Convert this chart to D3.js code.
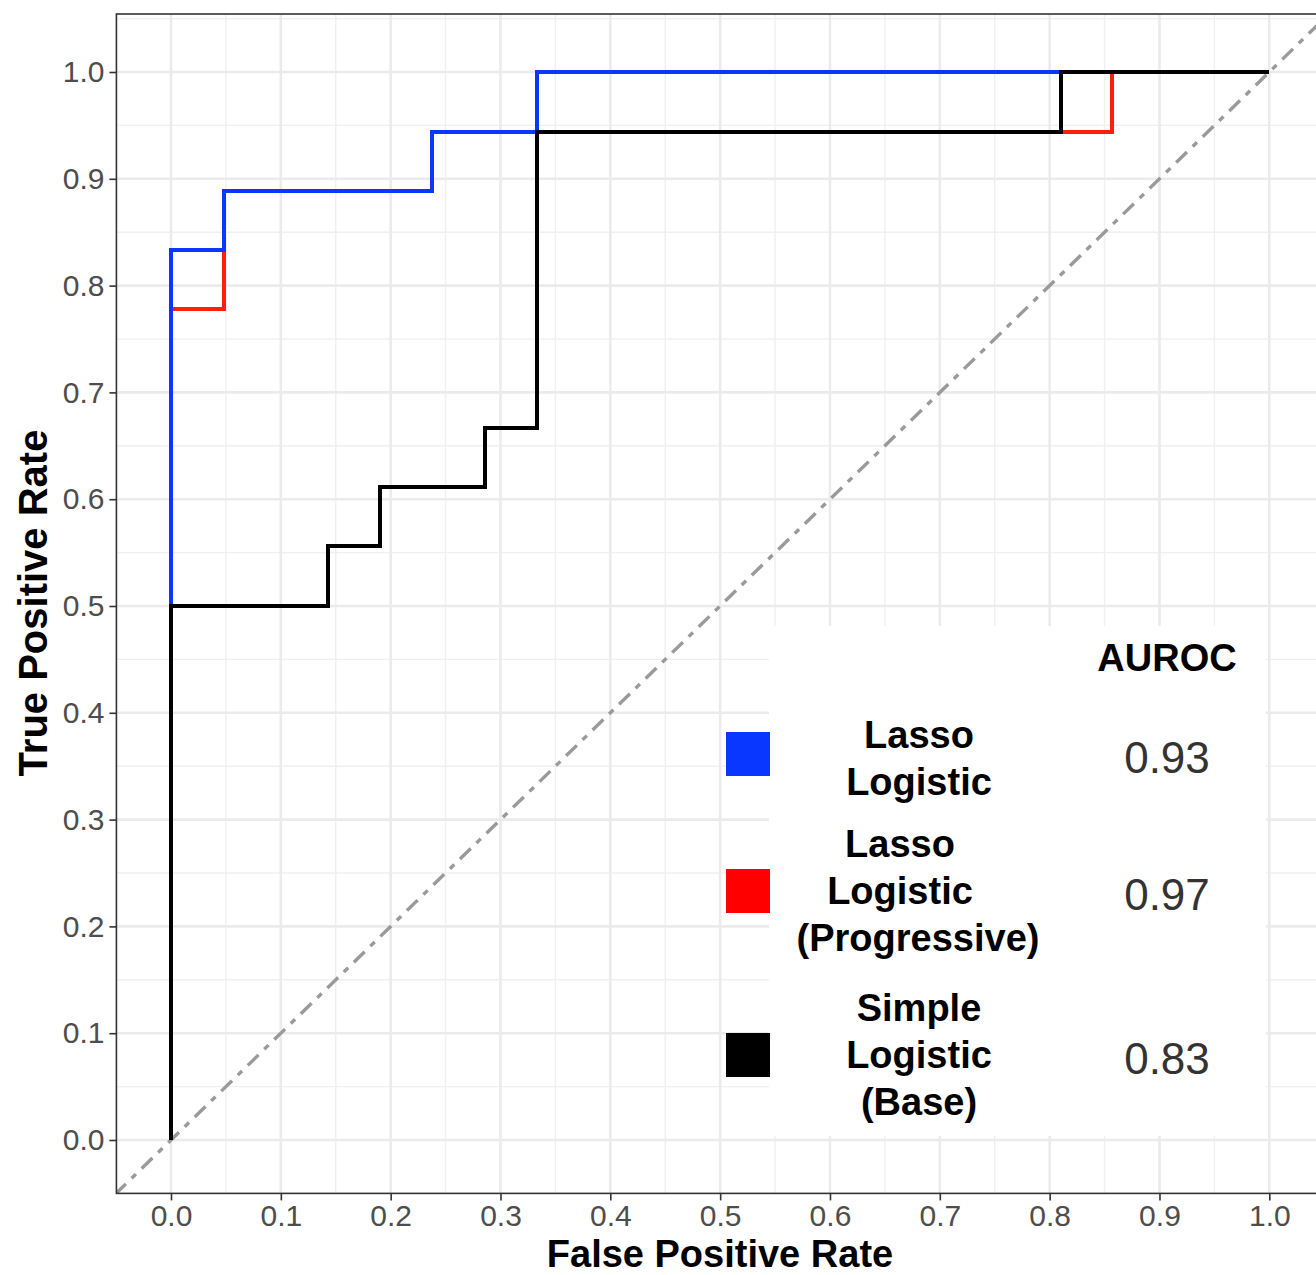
<!DOCTYPE html>
<html><head><meta charset="utf-8">
<script src="https://cdn.jsdelivr.net/npm/d3@7"></script>
<style>html,body{margin:0;padding:0;background:#fff;overflow:hidden}</style>
</head><body>
<svg id="chart" width="1316" height="1275"></svg>
<script>
// ---- data ----
const fprRed   = [0, 0, 0.048, 0.048, 0.238, 0.238, 0.857, 0.857, 1];
const tprRed   = [0, 0.778, 0.778, 0.889, 0.889, 0.944, 0.944, 1, 1];
const fprBlue  = [0, 0, 0.048, 0.048, 0.238, 0.238, 0.333, 0.333, 1];
const tprBlue  = [0, 0.833, 0.833, 0.889, 0.889, 0.944, 0.944, 1, 1];
const fprBlack = [0, 0, 0.143, 0.143, 0.190, 0.190, 0.286, 0.286, 0.333, 0.333, 0.810, 0.810, 1];
const tprBlack = [0, 0.5, 0.5, 0.556, 0.556, 0.611, 0.611, 0.667, 0.667, 0.944, 0.944, 1, 1];
const seriesNames = [["Lasso","Logistic"], ["Lasso","Logistic","(Progressive)"], ["Simple","Logistic","(Base)"]];
const seriesColors = ["#0a37ff", "#ff1f0a", "#000000"];
const swatchColors = ["#0a37ff", "#ff0000", "#000000"];
const aurocValues = ["0.93", "0.97", "0.83"];
const tickValues = [0, 0.1, 0.2, 0.3, 0.4, 0.5, 0.6, 0.7, 0.8, 0.9, 1.0];
const minorValues = [0.05, 0.15, 0.25, 0.35, 0.45, 0.55, 0.65, 0.75, 0.85, 0.95, 1.05];
const xTitle = "False Positive Rate";
const yTitle = "True Positive Rate";
const legendTitle = "AUROC";

// ---- layout ----
const svg = d3.select("#chart");
const x = d3.scaleLinear().domain([0, 1]).range([171, 1269.3]);
const y = d3.scaleLinear().domain([0, 1]).range([1140, 72]);
const panel = {left: x(-0.0497), right: x(1.05), top: 14, bottom: y(-0.05)};
const FONT = "'Liberation Sans', Arial, Helvetica, sans-serif";

svg.append("defs").append("clipPath").attr("id","clip")
  .append("rect").attr("x",panel.left).attr("y",panel.top)
  .attr("width",panel.right-panel.left).attr("height",panel.bottom-panel.top);

const g = svg.append("g");
g.append("rect").attr("x",panel.left).attr("y",panel.top)
  .attr("width",panel.right-panel.left).attr("height",panel.bottom-panel.top).attr("fill","#fff");

const grid = g.append("g").attr("clip-path","url(#clip)");
grid.selectAll(".mx").data(minorValues).join("line")
  .attr("x1",d=>x(d)).attr("x2",d=>x(d)).attr("y1",panel.top).attr("y2",panel.bottom)
  .attr("stroke","#f0f0f0").attr("stroke-width",1.4);
grid.selectAll(".my").data(minorValues).join("line")
  .attr("y1",d=>y(d)).attr("y2",d=>y(d)).attr("x1",panel.left).attr("x2",panel.right)
  .attr("stroke","#f0f0f0").attr("stroke-width",1.4);
grid.selectAll(".gx").data(tickValues).join("line")
  .attr("x1",d=>x(d)).attr("x2",d=>x(d)).attr("y1",panel.top).attr("y2",panel.bottom)
  .attr("stroke","#ebebeb").attr("stroke-width",2.6);
grid.selectAll(".gy").data(tickValues).join("line")
  .attr("y1",d=>y(d)).attr("y2",d=>y(d)).attr("x1",panel.left).attr("x2",panel.right)
  .attr("stroke","#ebebeb").attr("stroke-width",2.6);

// diagonal
const plot = g.append("g").attr("clip-path","url(#clip)");
plot.append("line")
  .attr("x1",x(-0.06)).attr("y1",y(-0.06)).attr("x2",x(1.06)).attr("y2",y(1.06))
  .attr("stroke","#9a9a9a").attr("stroke-width",3.4).attr("stroke-dasharray","6 8 15 8");

const line = d3.line().x(d=>Math.round(x(d[0]))).y(d=>Math.round(y(d[1])));
const series = [[fprRed,tprRed,seriesColors[1]],[fprBlue,tprBlue,seriesColors[0]],[fprBlack,tprBlack,seriesColors[2]]];
series.forEach(([fx,ty,c])=>{
  plot.append("path").datum(fx.map((v,i)=>[v,ty[i]]))
    .attr("d",line).attr("fill","none").attr("stroke",c)
    .attr("stroke-width",4).attr("stroke-linejoin","miter").attr("stroke-linecap","butt")
    .attr("shape-rendering","crispEdges");
});

// panel border
g.append("rect").attr("x",panel.left).attr("y",panel.top)
  .attr("width",panel.right-panel.left).attr("height",panel.bottom-panel.top)
  .attr("fill","none").attr("stroke","#333").attr("stroke-width",1.6);

// axes
const xAxis = d3.axisBottom(x).tickValues(tickValues).tickFormat(d3.format(".1f")).tickSize(7).tickPadding(6);
const yAxis = d3.axisLeft(y).tickValues(tickValues).tickFormat(d3.format(".1f")).tickSize(7).tickPadding(6);
const gx = svg.append("g").attr("transform",`translate(0,${panel.bottom})`).call(xAxis);
const gy = svg.append("g").attr("transform",`translate(${panel.left},0)`).call(yAxis);
[gx,gy].forEach(a=>{
  a.select(".domain").remove();
  a.selectAll(".tick line").attr("stroke","#333").attr("stroke-width",1.6);
  a.selectAll(".tick text").attr("fill","#4d4d4d").style("font-family",FONT).style("font-size","30px");
});
gx.selectAll(".tick text").attr("y",null).attr("dy",null).attr("y",1226 - panel.bottom);
gy.selectAll(".tick text").attr("x",-12);

// axis titles
svg.append("text").attr("x",720).attr("y",1267).attr("text-anchor","middle")
  .style("font-family",FONT).style("font-weight","bold").style("font-size","38px").attr("fill","#000").text(xTitle);
svg.append("text").attr("transform","translate(47,603) rotate(-90)").attr("text-anchor","middle")
  .style("font-family",FONT).style("font-weight","bold").style("font-size","40px").attr("fill","#000").text(yTitle);

// legend
const leg = svg.append("g");
leg.append("rect").attr("x",769).attr("y",626).attr("width",497).attr("height",510).attr("fill","#fff");
leg.append("text").attr("x",1167).attr("y",671).attr("text-anchor","middle")
  .style("font-family",FONT).style("font-weight","bold").style("font-size","38px").attr("fill","#000").text(legendTitle);
const swY = [754, 891, 1055];
const lineH = 47;
const labelX = [[919,919],[900,900,918],[919,919,919]];
const labelDy = [17, 13, 13];
seriesNames.forEach((lines,i)=>{
  leg.append("rect").attr("x",726).attr("y",swY[i]-22).attr("width",44).attr("height",44).attr("fill",swatchColors[i]);
  const t = leg.append("text").attr("text-anchor","middle")
    .style("font-family",FONT).style("font-weight","bold").style("font-size","38px").attr("fill","#000");
  const y0 = swY[i] - (lines.length-1)*lineH/2 + labelDy[i];
  lines.forEach((s,j)=>{
    t.append("tspan").attr("x", labelX[i][j]).attr("y",y0+j*lineH).text(s);
  });
  leg.append("text").attr("x",1167).attr("y",swY[i]+19).attr("text-anchor","middle")
    .style("font-family",FONT).style("font-size","44px").attr("fill","#333").text(aurocValues[i]);
});
</script>
</body></html>
